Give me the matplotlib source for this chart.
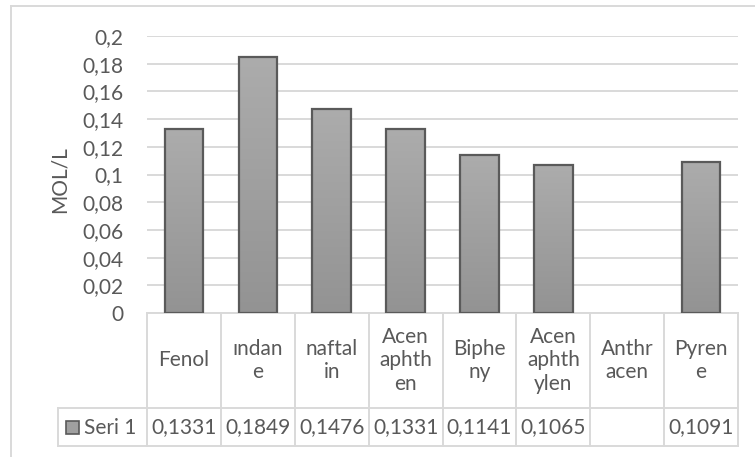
import numpy as np
import matplotlib
matplotlib.use("Agg")
import matplotlib.pyplot as plt
from matplotlib.patches import Rectangle
from matplotlib.lines import Line2D
from matplotlib.colors import LinearSegmentedColormap
from matplotlib.ticker import FuncFormatter, MultipleLocator

plt.rcParams['font.family'] = ['Lato', 'DejaVu Sans']

categories = ["Fenol", "ından\ne", "naftal\nin", "Acen\naphth\nen", "Biphe\nny",
              "Acen\naphth\nylen", "Anthr\nacen", "Pyren\ne"]
values = [0.1331, 0.1849, 0.1476, 0.1331, 0.1141, 0.1065, np.nan, 0.1091]
series_name = "Seri 1"
y_label = "MOL/L"

W, H = 755, 457
txt = "#595959"
grid = "#d9d9d9"
fs = 15

fig = plt.figure(figsize=(W / 100, H / 100), dpi=100)


def fx(px):
    return px / W


def fy(py):
    return 1 - py / H


# plot area
left, right, top, bottom = 147, 738, 36, 313
ax = fig.add_axes([fx(left), fy(bottom), fx(right - left), (bottom - top) / H])
ax.set_xlim(-0.5, len(categories) - 0.5)
ax.set_ylim(0, 0.2)
for s in ax.spines.values():
    s.set_visible(False)
ax.yaxis.set_major_locator(MultipleLocator(0.02))
ax.yaxis.set_major_formatter(FuncFormatter(
    lambda v, p: f"{v:.2f}".rstrip("0").rstrip(".").replace(".", ",")))
ax.tick_params(axis="y", length=0, pad=17, labelsize=fs, labelcolor=txt)
ax.set_xticks([])
ax.grid(axis="y", color=grid, linewidth=1.4)
ax.set_axisbelow(True)

fig.text(fx(60), fy(180), y_label, rotation=90, ha="center", va="center",
         fontsize=fs, color=txt)

# bars with a soft vertical gradient
cmap = LinearSegmentedColormap.from_list("bar", ["#939393", "#acacac"])
grad = np.linspace(0, 1, 256).reshape(-1, 1)
x = np.arange(len(categories))
bars = ax.bar(x, np.nan_to_num(values), width=0.52, facecolor="none",
              edgecolor="#5a5a5a", linewidth=1.6, zorder=3)
for b, v in zip(bars, values):
    if np.isnan(v):
        b.set_visible(False)
        continue
    bx, by = b.get_x(), b.get_y()
    im = ax.imshow(grad, cmap=cmap, origin="lower", aspect="auto", zorder=2,
                   extent=[bx, bx + b.get_width(), by, by + b.get_height()])
    im.set_clip_path(b)
ax.set_xlim(-0.5, len(categories) - 0.5)
ax.set_ylim(0, 0.2)

# data table below the plot
tr = ax.get_xaxis_transform()
ph = bottom - top
row1 = -(408 - bottom) / ph
row2 = -(446 - bottom) / ph
leg_left = -0.5 - (left - 58) / ((right - left) / len(categories))
lk = dict(color=grid, linewidth=1.4, transform=tr, clip_on=False)
ax.add_line(Line2D([-0.5, 7.5], [0, 0], **lk))
ax.add_line(Line2D([leg_left, 7.5], [row1, row1], **lk))
ax.add_line(Line2D([leg_left, 7.5], [row2, row2], **lk))
ax.add_line(Line2D([leg_left, leg_left], [row1, row2], **lk))
for i in range(len(categories) + 1):
    ax.add_line(Line2D([i - 0.5, i - 0.5], [0, row2], **lk))

for i, (c, v) in enumerate(zip(categories, values)):
    ax.text(i, row1 / 2, c, transform=tr, ha="center", va="center",
            fontsize=fs, color=txt, linespacing=1.2, multialignment="center")
    if not np.isnan(v):
        ax.text(i, (row1 + row2) / 2, f"{v:.4f}".replace(".", ","),
                transform=tr, ha="center", va="center", fontsize=fs, color=txt)

# legend key inside the table
key = Rectangle((fx(66), fy(434)), fx(13), 13 / H, transform=fig.transFigure,
                facecolor="#a0a0a0", edgecolor="#5a5a5a", linewidth=1.2)
fig.add_artist(key)
fig.text(fx(84), fy(428), series_name, ha="left", va="center",
         fontsize=fs, color=txt)

# chart frame
fig.add_artist(Line2D([fx(11), fx(11)], [fy(6), 0], color=grid, linewidth=1.4,
                      transform=fig.transFigure))
fig.add_artist(Line2D([fx(11), 1], [fy(6), fy(6)], color=grid, linewidth=1.4,
                      transform=fig.transFigure))

fig.savefig("out.png", dpi=100, facecolor="white")
